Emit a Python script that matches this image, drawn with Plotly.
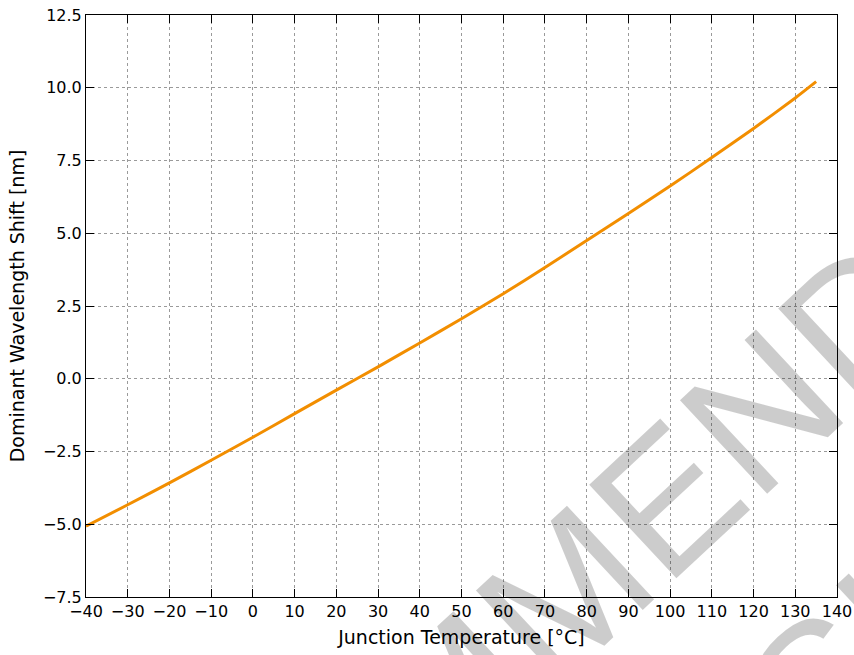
import plotly.graph_objects as go

temperature_c = [-40, -30, -20, -10, 0, 10, 20, 30, 40, 50, 60, 70, 80, 90, 100, 110, 120, 130, 135]
wavelength_shift_nm = [-5.07, -4.33, -3.58, -2.80, -2.01, -1.20, -0.39, 0.41, 1.23, 2.06,
                       2.92, 3.82, 4.75, 5.68, 6.62, 7.60, 8.60, 9.65, 10.21]

x_ticks = list(range(-40, 141, 10))
y_ticks = [-7.5, -5.0, -2.5, 0.0, 2.5, 5.0, 7.5, 10.0, 12.5]
y_tick_text = ["−7.5", "−5.0", "−2.5", "0.0", "2.5", "5.0", "7.5", "10.0", "12.5"]

font_family = "DejaVu Sans"

fig = go.Figure()
fig.add_trace(go.Scatter(
    x=temperature_c, y=wavelength_shift_nm, mode="lines",
    line=dict(color="#f28e00", width=3, shape="spline", smoothing=0.6),
    showlegend=False, hoverinfo="skip",
))

axis_common = dict(
    showline=True, linecolor="black", linewidth=1, mirror="allticks",
    ticks="inside", ticklen=8, tickwidth=1, tickcolor="black",
    showgrid=True, gridcolor="#9a9a9a", gridwidth=1, griddash="dot",
    zeroline=False, automargin=False, ticklabeloverflow="allow",
    tickfont=dict(family=font_family, size=16, color="black"),
)

fig.update_xaxes(
    range=[-40, 140], tickvals=x_ticks,
    title=dict(text="Junction Temperature [°C]", font=dict(family=font_family, size=19, color="black"), standoff=10),
    **axis_common,
)
fig.update_yaxes(
    range=[-7.5, 12.5], tickvals=y_ticks, ticktext=y_tick_text,
    title=dict(text="Dominant Wavelength Shift [nm]", font=dict(family=font_family, size=19, color="black"), standoff=13),
    **axis_common,
)

# watermark (semi-transparent so gridlines and tick labels show through)
fig.add_annotation(
    text="NOT RECOMMENDED<br>FOR NEW DESIGNS",
    xref="paper", yref="paper", x=0.512, y=-0.43,
    xanchor="center", yanchor="middle", textangle=-43, showarrow=False,
    font=dict(family="Liberation Sans", size=186, color="rgba(0,0,0,0.2)"),
)

fig.update_layout(
    width=854, height=655,
    margin=dict(l=86, r=17, t=15, b=58),
    paper_bgcolor="white", plot_bgcolor="rgba(0,0,0,0)",
    font=dict(family=font_family, color="black"),
)

# remove the default 8 px page margin so the figure fills the window exactly
fig.write_html("out.html", config={"displayModeBar": False},
               post_script="document.body.style.margin='0';")
